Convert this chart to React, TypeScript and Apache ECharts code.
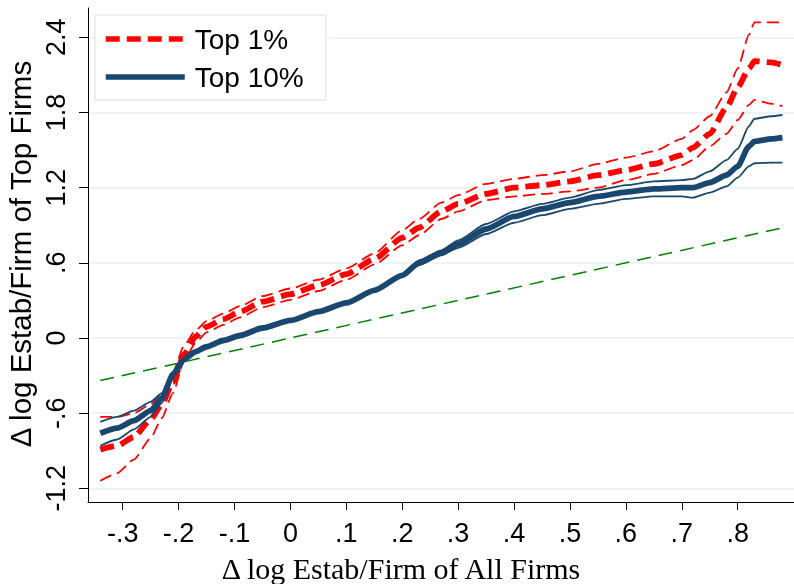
import React, { useEffect, useRef } from "react";
import * as echarts from "echarts";

// x: Δ log Estab/Firm of All Firms
const xValues = [-0.34, -0.31, -0.28, -0.25, -0.23, -0.21, -0.19, -0.17, -0.15, -0.12, -0.09, -0.05, 0, 0.05, 0.1, 0.15, 0.2, 0.23, 0.27, 0.3, 0.35, 0.4, 0.45, 0.5, 0.55, 0.6, 0.65, 0.7, 0.72, 0.75, 0.78, 0.8, 0.82, 0.83, 0.86, 0.88];

// Top 1% estimate and its band
const top1 = [-0.89, -0.86, -0.79, -0.65, -0.53, -0.35, -0.13, 0.01, 0.09, 0.15, 0.21, 0.29, 0.35, 0.42, 0.51, 0.63, 0.8, 0.88, 1.01, 1.07, 1.15, 1.2, 1.22, 1.25, 1.3, 1.34, 1.39, 1.46, 1.52, 1.63, 1.84, 2.0, 2.15, 2.21, 2.2, 2.18];
const top1Hi = [-0.63, -0.63, -0.6, -0.53, -0.44, -0.27, -0.06, 0.06, 0.135, 0.195, 0.255, 0.335, 0.395, 0.465, 0.555, 0.675, 0.86, 0.95, 1.08, 1.14, 1.23, 1.27, 1.3, 1.33, 1.39, 1.44, 1.49, 1.59, 1.66, 1.77, 1.96, 2.15, 2.42, 2.52, 2.52, 2.52];
const top1Lo = [-1.14, -1.08, -0.97, -0.8, -0.64, -0.44, -0.18, -0.04, 0.045, 0.105, 0.165, 0.245, 0.305, 0.375, 0.465, 0.585, 0.74, 0.82, 0.95, 1.01, 1.1, 1.13, 1.15, 1.17, 1.2, 1.26, 1.31, 1.38, 1.42, 1.53, 1.63, 1.74, 1.86, 1.9, 1.87, 1.85];

// Top 10% estimate and its band
const top10 = [-0.76, -0.72, -0.66, -0.58, -0.48, -0.29, -0.17, -0.11, -0.07, -0.02, 0.02, 0.08, 0.14, 0.21, 0.28, 0.38, 0.5, 0.6, 0.68, 0.75, 0.87, 0.97, 1.03, 1.08, 1.13, 1.165, 1.19, 1.2, 1.2, 1.24, 1.3, 1.37, 1.53, 1.57, 1.59, 1.6];
const top10Hi = [-0.67, -0.63, -0.58, -0.51, -0.44, -0.27, -0.16, -0.1, -0.06, -0.01, 0.03, 0.09, 0.15, 0.22, 0.29, 0.39, 0.51, 0.62, 0.7, 0.78, 0.91, 1.01, 1.07, 1.12, 1.18, 1.22, 1.25, 1.26, 1.27, 1.33, 1.42, 1.51, 1.69, 1.75, 1.77, 1.78];
const top10Lo = [-0.86, -0.81, -0.73, -0.63, -0.52, -0.31, -0.18, -0.12, -0.08, -0.03, 0.01, 0.07, 0.13, 0.2, 0.27, 0.37, 0.49, 0.58, 0.66, 0.72, 0.83, 0.92, 0.98, 1.03, 1.07, 1.11, 1.13, 1.13, 1.12, 1.16, 1.21, 1.28, 1.37, 1.395, 1.4, 1.4];

// 45-degree reference line
const diagX = [-0.34, 0.876];
const diagY = [-0.34, 0.876];

const xTicks = [-0.3, -0.2, -0.1, 0, 0.1, 0.2, 0.3, 0.4, 0.5, 0.6, 0.7, 0.8];
const yTicks = [-1.2, -0.6, 0, 0.6, 1.2, 1.8, 2.4];

const xTitle = "\u0394 log Estab/Firm of All Firms";
const yTitle = "\u0394 log Estab/Firm of Top Firms";

const fmt = (v: number) => {
  const s = (Math.round(v * 10) / 10).toString();
  return s.replace(/^(-?)0\./, "$1.");
};

const pairs = (xs: number[], ys: number[]) => xs.map((x, i) => [x, ys[i]]);

const RED = "#ff0000";
const NAVY = "#1a476f";
const GREEN = "#008000";

export default function App() {
  const ref = useRef<HTMLDivElement>(null);
  useEffect(() => {
    if (!ref.current) return;
    const chart = echarts.init(ref.current, null, { renderer: "svg" });
    const line = (name: string, ys: number[], color: string, width: number, type: any, z: number, xs = xValues) => ({
      type: "line",
      name,
      data: pairs(xs, ys),
      symbol: "none",
      showSymbol: false,
      smooth: 0.2,
      smoothMonotone: "x",
      silent: true,
      z,
      itemStyle: { color },
      lineStyle: { color, width, type, cap: "butt", join: "round" },
      emphasis: { disabled: true },
    });
    const axisFont = { fontSize: 27, fontFamily: "Liberation Sans, Arial, sans-serif", color: "#000" };
    chart.setOption({
      animation: false,
      grid: { left: 88, right: 0, top: 8, bottom: 82, containLabel: false },
      xAxis: {
        type: "value",
        min: -0.362,
        max: 0.9007,
        axisLine: { show: true, onZero: false, lineStyle: { color: "#000", width: 1 } },
        axisTick: { show: true, length: 8, customValues: xTicks, lineStyle: { color: "#000", width: 1 } },
        axisLabel: { ...axisFont, customValues: xTicks, formatter: fmt, margin: 17 },
        splitLine: { show: false },
      },
      yAxis: {
        type: "value",
        min: -1.309,
        max: 2.634,
        axisLine: { show: true, onZero: false, lineStyle: { color: "#000", width: 1 } },
        axisTick: { show: true, length: 9, customValues: yTicks, lineStyle: { color: "#000", width: 1 } },
        axisLabel: { ...axisFont, customValues: yTicks, formatter: fmt, rotate: 90, margin: 19 },
        splitLine: { show: true, lineStyle: { color: "#e9f0f2", width: 1.5 } },
      },
      legend: {
        data: ["Top 1%", "Top 10%"],
        orient: "vertical",
        left: 95,
        top: 15,
        itemWidth: 79,
        itemHeight: 28,
        itemGap: 10,
        padding: [10, 22, 9, 8],
        backgroundColor: "#fff",
        borderColor: "#e4ecef",
        borderWidth: 1.5,
        selectedMode: false,
        itemStyle: { opacity: 0 },
        lineStyle: { width: 5.5 },
        textStyle: { fontSize: 28, fontFamily: "Liberation Sans, Arial, sans-serif", color: "#000", padding: [0, 0, 0, 5] },
      },
      graphic: [
        {
          type: "text",
          x: 401,
          y: 568,
          silent: true,
          style: {
            text: xTitle,
            fontSize: 30,
            fontFamily: "Liberation Serif, Times New Roman, serif",
            fill: "#000",
            textAlign: "center",
            align: "center",
            textVerticalAlign: "middle",
            verticalAlign: "middle",
          },
        },
        {
          type: "text",
          x: 20,
          y: 254,
          rotation: Math.PI / 2,
          silent: true,
          style: {
            text: yTitle,
            fontSize: 29.5,
            fontFamily: "Liberation Sans, Arial, sans-serif",
            fill: "#000",
            textAlign: "center",
            align: "center",
            textVerticalAlign: "middle",
            verticalAlign: "middle",
          },
        },
      ],
      series: [
        line("45 degree", diagY, GREEN, 1.5, [14, 8], 1, diagX),
        line("Top 1% upper", top1Hi, RED, 1.8, [12, 6], 2),
        line("Top 1% lower", top1Lo, RED, 1.8, [12, 6], 2),
        line("Top 1%", top1, RED, 5.8, [14, 7], 3),
        line("Top 10% upper", top10Hi, NAVY, 1.8, "solid", 4),
        line("Top 10% lower", top10Lo, NAVY, 1.8, "solid", 4),
        line("Top 10%", top10, NAVY, 5.8, "solid", 5),
      ],
    });
    return () => chart.dispose();
  }, []);
  return <div ref={ref} style={{ position: "fixed", left: 0, top: 0, width: 794, height: 584 }} />;
}
